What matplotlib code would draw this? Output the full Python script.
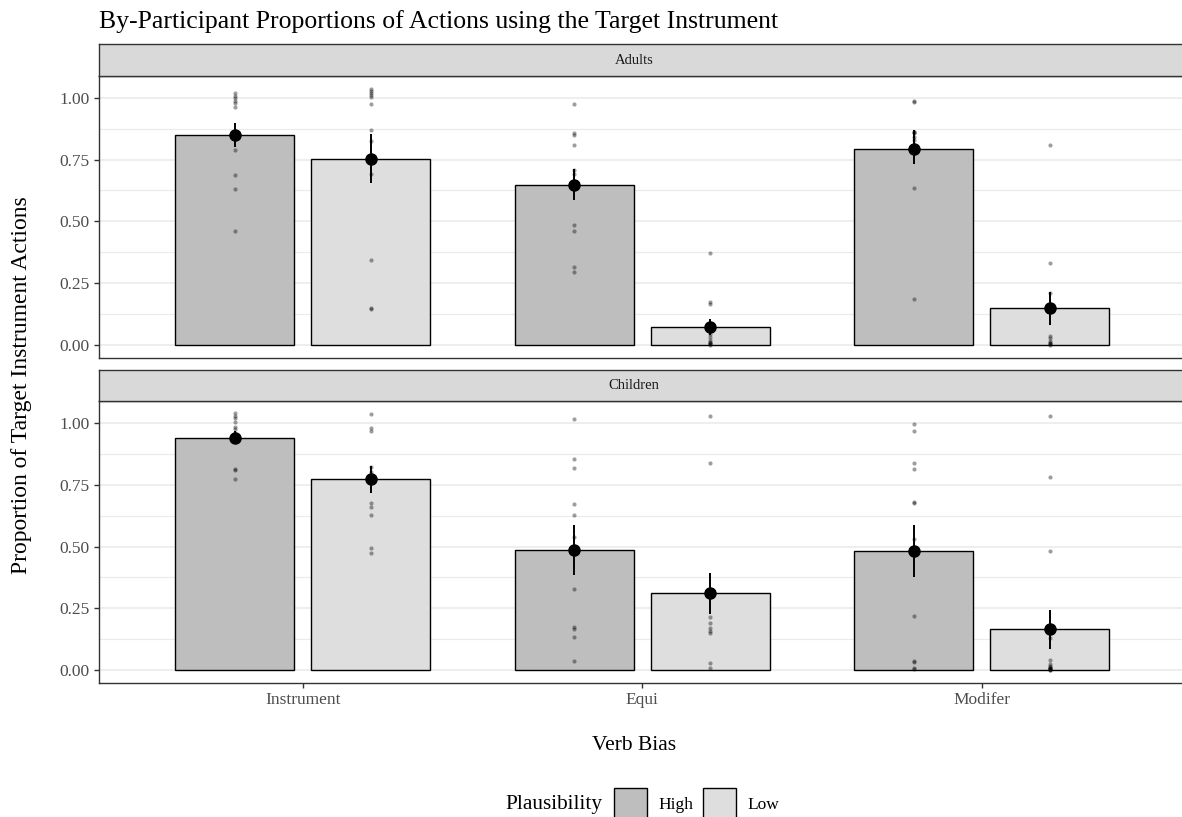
import numpy as np
import matplotlib.pyplot as plt
from matplotlib.patches import Rectangle

plt.rcParams['font.family'] = ['Liberation Serif', 'DejaVu Serif']

verb_bias = ['Instrument', 'Equi', 'Modifer']
plausibility = ['High', 'Low']
fills = ['#BEBEBE', '#DEDEDE']

# per-participant proportions (one list per verb bias)
adults_high_pts = [[1.019, 1.008, 0.999, 0.989, 0.979, 0.965, 0.788, 0.687, 0.630, 0.462],
                   [0.976, 0.856, 0.851, 0.808, 0.706, 0.693, 0.486, 0.459, 0.315, 0.294],
                   [0.986, 0.982, 0.864, 0.857, 0.860, 0.840, 0.830, 0.810, 0.637, 0.186]]
adults_low_pts = [[1.035, 1.028, 1.021, 1.012, 1.003, 0.976, 0.869, 0.827, 0.691, 0.345, 0.147, 0.143],
                  [0.371, 0.171, 0.165, 0.045, 0.030, 0.020, 0.012, 0.008, 0.005, 0.002, 0.0],
                  [0.810, 0.333, 0.209, 0.036, 0.027, 0.013, 0.008, 0.005, 0.002, 0.0]]
children_high_pts = [[1.039, 1.030, 1.019, 1.005, 0.985, 0.974, 0.960, 0.812, 0.810, 0.772],
                     [1.016, 0.853, 0.818, 0.673, 0.628, 0.537, 0.327, 0.175, 0.165, 0.134, 0.035],
                     [0.996, 0.969, 0.839, 0.812, 0.681, 0.677, 0.529, 0.221, 0.036, 0.032, 0.009, 0.004]]
children_low_pts = [[1.035, 0.978, 0.969, 0.823, 0.800, 0.780, 0.677, 0.661, 0.628, 0.495, 0.472],
                    [1.030, 0.838, 0.216, 0.189, 0.170, 0.160, 0.150, 0.027, 0.009],
                    [1.027, 0.781, 0.484, 0.132, 0.040, 0.025, 0.015, 0.013, 0.010, 0.008,
                     0.006, 0.005, 0.004, 0.002, 0.0]]

# condition means and interval ends
adults_high_mean = [0.850, 0.649, 0.792]
adults_low_mean = [0.754, 0.073, 0.147]
children_high_mean = [0.941, 0.487, 0.484]
children_low_mean = [0.773, 0.312, 0.165]

adults_high_lo = [0.800, 0.587, 0.733]
adults_high_hi = [0.900, 0.711, 0.870]
adults_low_lo = [0.657, 0.040, 0.081]
adults_low_hi = [0.854, 0.105, 0.215]
children_high_lo = [0.914, 0.387, 0.378]
children_high_hi = [0.969, 0.588, 0.588]
children_low_lo = [0.718, 0.228, 0.086]
children_low_hi = [0.826, 0.394, 0.243]

panels = [
    ('Adults', [adults_high_pts, adults_low_pts], [adults_high_mean, adults_low_mean],
     [adults_high_lo, adults_low_lo], [adults_high_hi, adults_low_hi]),
    ('Children', [children_high_pts, children_low_pts], [children_high_mean, children_low_mean],
     [children_high_lo, children_low_lo], [children_high_hi, children_low_hi]),
]

W, H = 1182, 817
fig = plt.figure(figsize=(W / 100, H / 100), dpi=100)

def fbox(x0, y0, x1, y1):
    # pixel box (top-left origin) -> figure fraction rect
    return [x0 / W, 1 - y1 / H, (x1 - x0) / W, (y1 - y0) / H]

panel_x0 = 99
panel_x1 = 99 + 3.2 * 339.5
boxes = [((44, 76), (76, 357.5)), ((369.5, 401), (401, 683))]

x = np.arange(1, len(verb_bias) + 1)
offsets = [-0.2, 0.2]
edge = '#333333'

for (name, pts, means, los, his), (sb, pb) in zip(panels, boxes):
    ax = fig.add_axes(fbox(panel_x0, pb[0], panel_x1, pb[1]))
    ax.set_xlim(0.4, 3.6)
    ax.set_ylim(-0.052, 1.089)
    ax.set_yticks([0, 0.25, 0.5, 0.75, 1.0])
    ax.set_yticklabels(['0.00', '0.25', '0.50', '0.75', '1.00'])
    ax.set_yticks([0.125, 0.375, 0.625, 0.875], minor=True)
    ax.grid(axis='y', which='major', color='#EBEBEB', lw=1.2)
    ax.grid(axis='y', which='minor', color='#EBEBEB', lw=0.8)
    ax.set_axisbelow(True)
    for s in ax.spines.values():
        s.set_color(edge)
        s.set_linewidth(1.0)
    ax.tick_params(axis='y', which='major', length=3.5, width=1.0, color=edge,
                   labelsize=12.5, labelcolor='#4D4D4D', pad=3)
    ax.tick_params(axis='y', which='minor', length=0)

    for k in range(2):
        xs = x + offsets[k]
        ax.bar(xs, means[k], width=0.35, color=fills[k], edgecolor='black', lw=1.0, zorder=2)
        for i in range(len(verb_bias)):
            p = pts[k][i]
            ax.scatter(np.full(len(p), xs[i]), p, s=9, color='black', alpha=0.38,
                       lw=0, zorder=3)
        ax.vlines(xs, los[k], his[k], color='black', lw=1.4, zorder=4)
        ax.plot(xs, means[k], 'o', color='black', ms=8, zorder=5)

    if name == 'Children':
        ax.set_xticks(x)
        ax.set_xticklabels(verb_bias)
        ax.tick_params(axis='x', length=3.5, width=1.0, color=edge,
                       labelsize=12.5, labelcolor='#4D4D4D', pad=3)
    else:
        ax.set_xticks([])

    sax = fig.add_axes(fbox(panel_x0, sb[0], panel_x1, sb[1]))
    sax.set_facecolor('#D9D9D9')
    sax.set_xticks([])
    sax.set_yticks([])
    for s in sax.spines.values():
        s.set_color(edge)
        s.set_linewidth(1.0)
    sax.text((634 - panel_x0) / (panel_x1 - panel_x0), 0.5, name,
             transform=sax.transAxes, ha='center', va='center', fontsize=10.5, color='#1A1A1A')

fig.text(99 / W, 1 - 22 / H, 'By-Participant Proportions of Actions using the Target Instrument',
         ha='left', va='center', fontsize=18.5, color='black')
fig.text(22 / W, 1 - 385 / H, 'Proportion of Target Instrument Actions', rotation=90,
         ha='center', va='center', fontsize=17, color='black')
fig.text(634 / W, 1 - 745 / H, 'Verb Bias', ha='center', va='center', fontsize=15.5, color='black')

# legend along the bottom
fig.text(602 / W, 1 - 805 / H, 'Plausibility', ha='right', va='center', fontsize=15.3)
for k, (lab, x0) in enumerate(zip(plausibility, [614, 703])):
    fig.patches.append(Rectangle((x0 / W, 1 - 822 / H), 33 / W, 34 / H, transform=fig.transFigure,
                                 facecolor=fills[k], edgecolor='black', lw=1.0))
    fig.text((x0 + 44) / W, 1 - 805 / H, lab, ha='left', va='center', fontsize=12.5)

fig.savefig('out.png', dpi=100)
